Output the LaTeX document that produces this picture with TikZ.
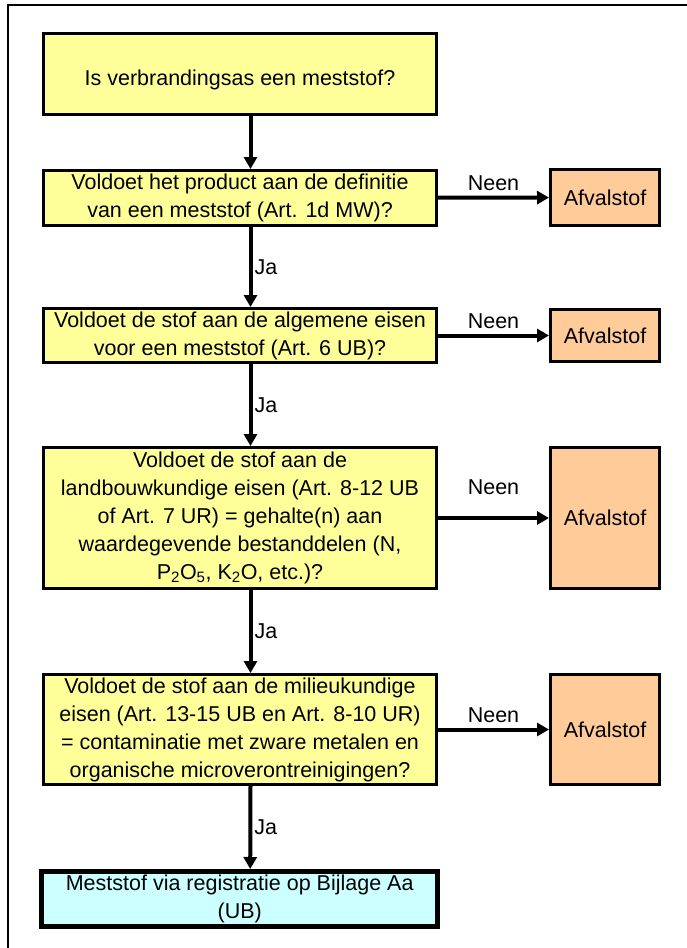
\documentclass[tikz,border=0pt]{standalone}
\usepackage{fontspec}
\setmainfont{Liberation Sans}
\usetikzlibrary{arrows.meta}

\definecolor{vraaggeel}{HTML}{FFFF99}
\definecolor{afvaloranje}{HTML}{FFCC99}
\definecolor{eindblauw}{HTML}{CCFFFF}

\begin{document}
\begin{tikzpicture}[x=1pt, y=-1pt, font=\fontsize{21.5}{28}\selectfont,
  vraag/.style={draw, line width=3pt, fill=vraaggeel, align=center, minimum width=393pt, inner sep=2pt},
  afval/.style={draw, line width=3pt, fill=afvaloranje, align=center, minimum width=109pt, inner sep=2pt},
  eind/.style={draw, line width=5pt, fill=eindblauw, align=center, minimum width=396pt, minimum height=55pt, inner sep=2pt},
  pijl/.style={line width=4pt, -{Triangle[length=12pt,width=13pt]}},
  lbl/.style={inner sep=0pt}]
\useasboundingbox (0,0) rectangle (687,948);
\draw[line width=2pt] (8,948) -- (8,5) -- (687,5);
% vragen
\node[vraag, minimum height=81pt] (v1) at (240,74) {\raisebox{-6pt}[\height][\depth]{Is verbrandingsas een meststof?}};
\node[vraag, minimum height=55pt] (v2) at (240,198) {Voldoet het product aan de definitie\\van een meststof (Art. 1d MW)?};
\node[vraag, minimum height=54pt] (v3) at (240,335.5) {Voldoet de stof aan de algemene eisen\\voor een meststof (Art. 6 UB)?};
\node[vraag, minimum height=141pt] (v4) at (240,518) {Voldoet de stof aan de\\landbouwkundige eisen (Art. 8-12 UB\\of Art. 7 UR) = gehalte(n) aan\\waardegevende bestanddelen (N,\\P\textsubscript{2}O\textsubscript{5}, K\textsubscript{2}O, etc.)?};
\node[vraag, minimum height=110pt] (v5) at (240,729.5) {Voldoet de stof aan de milieukundige\\eisen (Art. 13-15 UB en Art. 8-10 UR)\\= contaminatie met zware metalen en\\organische microverontreinigingen?};
\node[eind] (mest) at (239.7,899) {Meststof via registratie op Bijlage Aa\\(UB)};
% afvalstof
\node[afval, minimum height=56pt] (a1) at (605,197.5) {Afvalstof};
\node[afval, minimum height=52pt] (a2) at (605,335.5) {Afvalstof};
\node[afval, minimum height=141pt] (a3) at (605,518) {Afvalstof};
\node[afval, minimum height=110pt] (a4) at (605,729.5) {Afvalstof};
% pijlen
\draw[pijl] ([xshift=10.5pt]v1.south) -- ([xshift=10.5pt]v2.north);
\foreach \a/\b in {v2/v3,v3/v4,v4/v5,v5/mest}
  \draw[pijl] ([xshift=10.5pt]\a.south) -- node[lbl, right=2pt] {Ja} ([xshift=10.5pt]\b.north);
\foreach \a/\b/\d in {v2/a1/5pt,v3/a2/5pt,v4/a3/21pt,v5/a4/5pt}
  \draw[pijl] (\a) -- node[lbl, above=\d] {Neen} (\b);
\end{tikzpicture}
\end{document}
